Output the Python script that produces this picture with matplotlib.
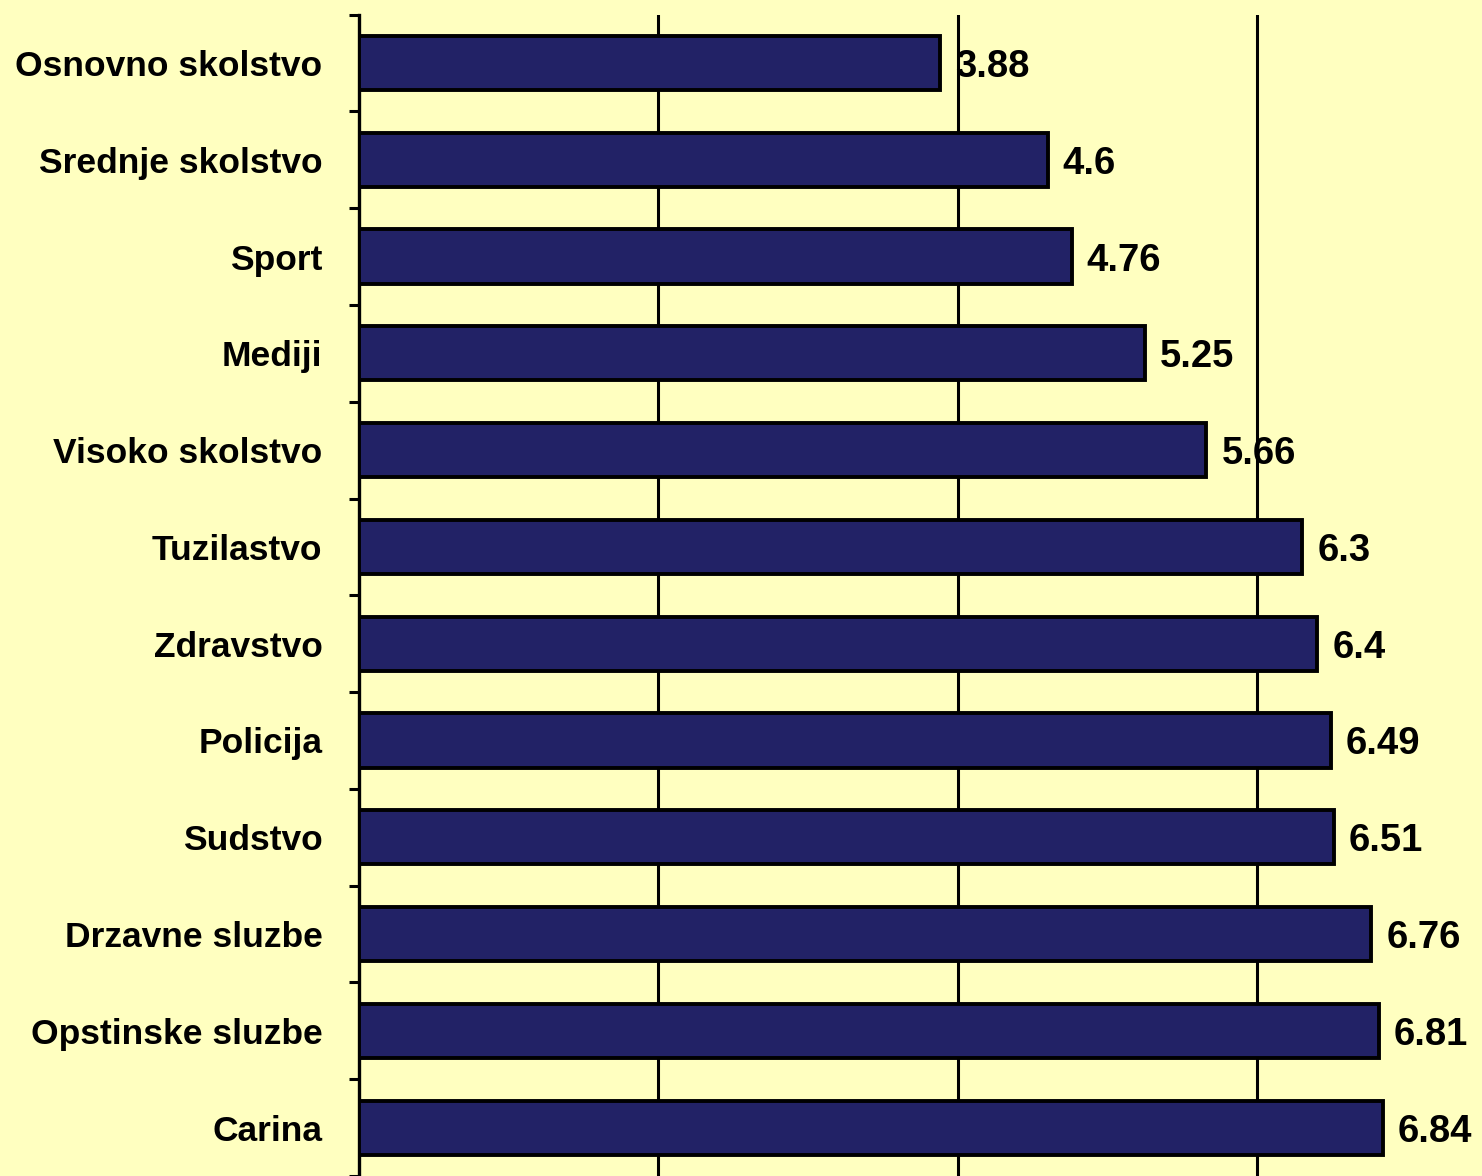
import numpy as np
import matplotlib.pyplot as plt

categories = ["Osnovno skolstvo", "Srednje skolstvo", "Sport", "Mediji",
              "Visoko skolstvo", "Tuzilastvo", "Zdravstvo", "Policija",
              "Sudstvo", "Drzavne sluzbe", "Opstinske sluzbe", "Carina"]
values = [3.88, 4.6, 4.76, 5.25, 5.66, 6.3, 6.4, 6.49, 6.51, 6.76, 6.81, 6.84]
value_labels = ["3.88", "4.6", "4.76", "5.25", "5.66", "6.3", "6.4", "6.49",
                "6.51", "6.76", "6.81", "6.84"]

bg = "#FFFFC0"
plt.rcParams["font.family"] = "Liberation Sans"
plt.rcParams["font.weight"] = "bold"

fig = plt.figure(figsize=(14.82, 11.76), dpi=100, facecolor=bg)
ax = fig.add_axes([358.5 / 1482, 0, 1 - 358.5 / 1482, 1 - 14.6 / 1176])
ax.set_facecolor(bg)

y = np.arange(len(categories))
ax.barh(y, values, height=0.56, color="#222266", edgecolor="black",
        linewidth=2.8, zorder=3)
for yi, v, lab in zip(y, values, value_labels):
    ax.text(v + 0.1, yi, lab, va="center_baseline", ha="left", fontsize=27.5,
            fontweight="bold", zorder=4)

ax.set_xlim(0, 7.5)
ax.set_ylim(len(categories) - 0.5, -0.5)
ax.set_xticks([2, 4, 6])
ax.tick_params(axis="x", length=0, labelbottom=False)
ax.xaxis.grid(True, color="black", linewidth=2.2)
ax.set_axisbelow(True)

ax.set_yticks(y)
ax.set_yticklabels(categories, fontsize=25.5, fontweight="bold",
                   va="center_baseline")
ax.set_yticks(np.arange(-0.5, len(categories), 1), minor=True)
ax.tick_params(axis="y", which="major", length=0, pad=26)
ax.tick_params(axis="y", which="minor", length=7, width=2.2, color="black")

for s in ["top", "right", "bottom"]:
    ax.spines[s].set_visible(False)
ax.spines["left"].set_linewidth(2.4)

fig.savefig("out.png", dpi=100, facecolor=bg)
